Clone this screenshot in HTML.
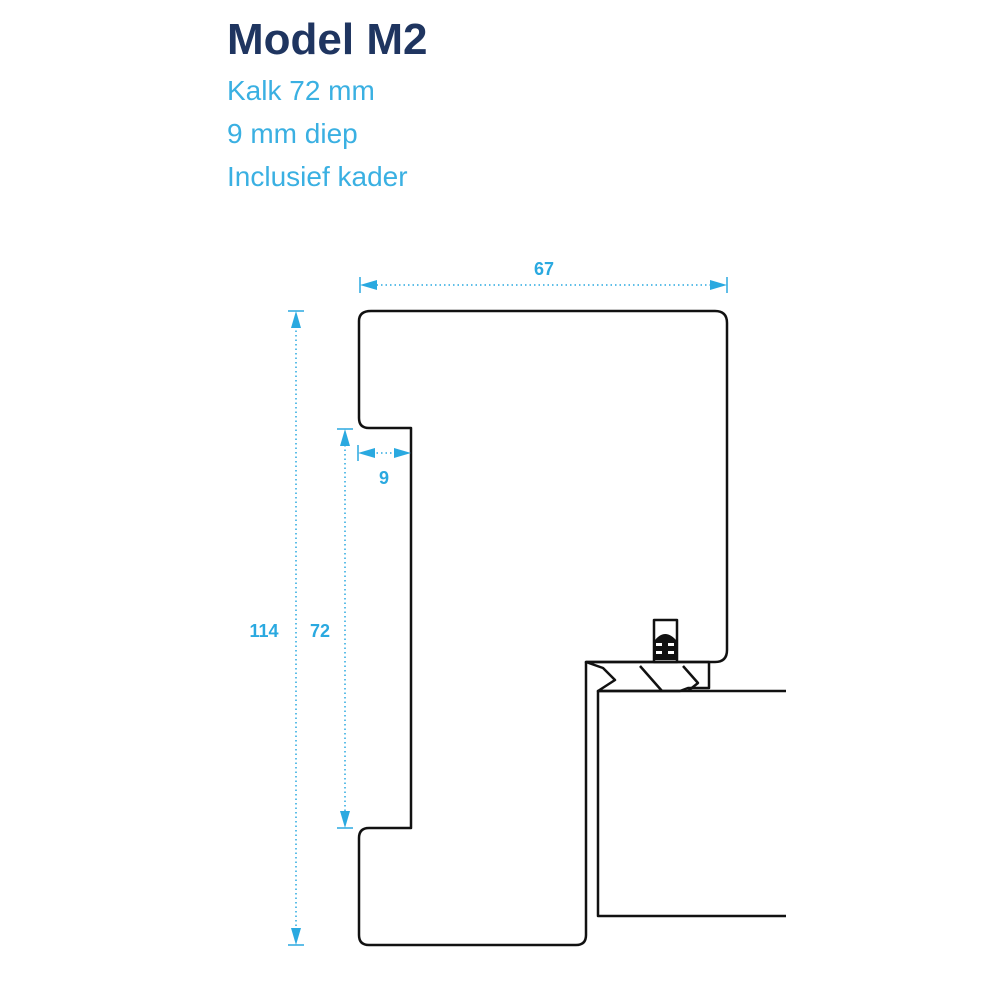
<!DOCTYPE html>
<html><head><meta charset="utf-8"><style>
body{margin:0;background:#fff;width:991px;height:991px;overflow:hidden;position:relative;font-family:"Liberation Sans",sans-serif}
.t{position:absolute;left:227px;color:#3ab0e2;font-size:28px}
</style></head><body>
<div style="position:absolute;left:227px;top:15px;font-size:44px;font-weight:bold;color:#1f3560">Model M2</div>
<div class="t" style="top:75px">Kalk 72 mm</div>
<div class="t" style="top:118px">9 mm diep</div>
<div class="t" style="top:161px">Inclusief kader</div>
<svg width="991" height="991" style="position:absolute;left:0;top:0">
<g fill="none" stroke="#111" stroke-width="2.5" stroke-linejoin="round">
<path d="M371,311 H715 Q727,311 727,323 V650 Q727,662 715,662 H586 V935 Q586,945 576,945 H369 Q359,945 359,935 V838 Q359,828 369,828 H411 V428 H369 Q359,428 359,418 V321 Q359,311 371,311 Z"/>
<path d="M786,691 H598 V916 H786"/>
<path d="M586,662 H709 V688 H688 L680,691 H627 L598,691 L615,680 L603,668 Z" stroke-width="2.5"/>
<path d="M640,666 L662,691 M683,666 L698,683 L688,691"/>
<rect x="654" y="620" width="23" height="42"/>
</g>
<g fill="#111"><path d="M655,660 V640 Q665,628 676,640 V660 Z"/></g>
<g fill="#fff"><rect x="656" y="643" width="6" height="3"/><rect x="668" y="643" width="6" height="3"/><rect x="656" y="651" width="6" height="3"/><rect x="668" y="651" width="6" height="3"/></g>
<g stroke="#2aa9e0" stroke-width="1.5" stroke-dasharray="1.5,3" fill="none">
<line x1="372" y1="285" x2="714" y2="285"/>
<line x1="296" y1="326" x2="296" y2="930"/>
<line x1="345" y1="445" x2="345" y2="813"/>
<line x1="372" y1="453" x2="398" y2="453"/>
</g>
<g stroke="#2aa9e0" stroke-width="1.5">
<line x1="360" y1="277" x2="360" y2="293"/><line x1="727" y1="277" x2="727" y2="293"/>
<line x1="288" y1="311" x2="304" y2="311"/><line x1="288" y1="945" x2="304" y2="945"/>
<line x1="337" y1="429" x2="353" y2="429"/><line x1="337" y1="828" x2="353" y2="828"/>
<line x1="358" y1="445" x2="358" y2="461"/>
</g>
<g fill="#2aa9e0">
<path d="M360,285 L377,280 V290 Z"/><path d="M727,285 L710,280 V290 Z"/>
<path d="M296,311 L291,328 H301 Z"/><path d="M296,945 L291,928 H301 Z"/>
<path d="M345,429 L340,446 H350 Z"/><path d="M345,828 L340,811 H350 Z"/>
<path d="M358,453 L375,448 V458 Z"/><path d="M411,453 L394,448 V458 Z"/>
</g>
<g fill="#2aa9e0" font-family="Liberation Sans,sans-serif" font-size="18" font-weight="bold" text-anchor="middle">
<text x="544" y="275">67</text>
<text x="384" y="484">9</text>
<text x="264" y="637">114</text>
<text x="320" y="637">72</text>
</g>
</svg>
</body></html>
